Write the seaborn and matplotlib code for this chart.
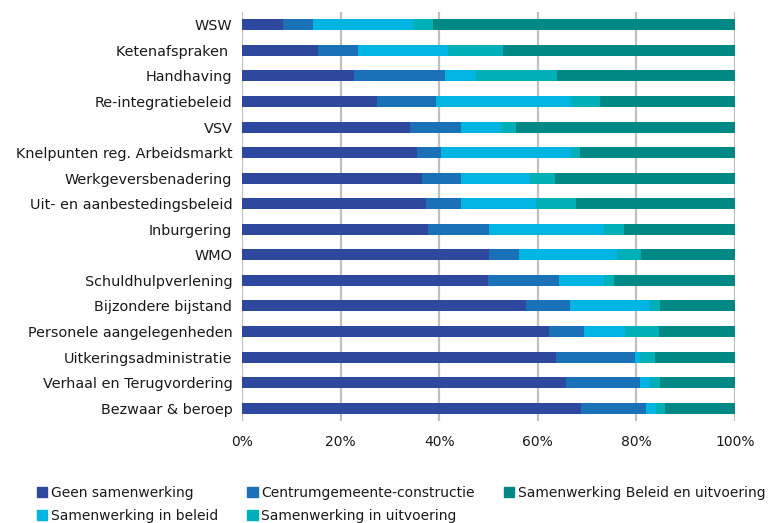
import numpy as np
import pandas as pd
import matplotlib
matplotlib.use("Agg")
import matplotlib.pyplot as plt
import matplotlib.patches as mpatches
import seaborn as sns

categories = ["WSW", "Ketenafspraken ", "Handhaving", "Re-integratiebeleid", "VSV",
              "Knelpunten reg. Arbeidsmarkt", "Werkgeversbenadering",
              "Uit- en aanbestedingsbeleid", "Inburgering", "WMO",
              "Schuldhulpverlening", "Bijzondere bijstand", "Personele aangelegenheden",
              "Uitkeringsadministratie", "Verhaal en Terugvordering", "Bezwaar & beroep"]

geen =        [8.3, 15.4, 22.7, 27.4, 34.1, 35.5, 36.5, 37.3, 37.7, 50.1, 49.9, 57.6, 62.3, 63.7, 65.7, 68.8]
centrum =     [6.1, 8.1, 18.5, 12.0, 10.3, 4.9, 7.9, 7.1, 12.4, 6.1, 14.4, 8.9, 7.1, 16.0, 15.0, 13.1]
in_beleid =   [20.3, 18.3, 6.3, 27.3, 8.1, 26.3, 14.0, 15.2, 23.3, 19.9, 9.1, 16.3, 8.3, 1.0, 2.1, 2.1]
in_uitv =     [4.0, 11.1, 16.4, 5.9, 3.1, 1.9, 5.1, 8.1, 4.1, 4.8, 2.1, 2.0, 6.9, 3.1, 2.0, 1.8]
beleid_uitv = [61.3, 47.1, 36.1, 27.4, 44.4, 31.4, 36.5, 32.3, 22.5, 19.1, 24.5, 15.2, 15.4, 16.2, 15.2, 14.2]

series_names = ["Geen samenwerking", "Centrumgemeente-constructie", "Samenwerking in beleid",
                "Samenwerking in uitvoering", "Samenwerking Beleid en uitvoering"]
colors = ["#2D489C", "#1A71B8", "#00B5E2", "#00AFB8", "#008884"]

df = pd.DataFrame({"cat": categories,
                   series_names[0]: geen, series_names[1]: centrum,
                   series_names[2]: in_beleid, series_names[3]: in_uitv,
                   series_names[4]: beleid_uitv})
vals = df[series_names].values
cum = np.cumsum(vals, axis=1)
tot = cum[:, -1:]
cum = cum / tot * 100

sns.set_style("white")
plt.rcParams['font.family'] = ['DejaVu Sans']

fig = plt.figure(figsize=(7.71, 5.23), dpi=100)
ax = fig.add_axes([242/771, 1 - 421/523, 493/771, 409/523])

for i in range(len(series_names) - 1, -1, -1):
    d = pd.DataFrame({"cat": categories, "v": cum[:, i]})
    sns.barplot(data=d, x="v", y="cat", orient="h", color=colors[i], width=0.43,
                ax=ax, saturation=1, zorder=2, linewidth=0)

ax.set_xlim(0, 100)
ax.set_xticks([0, 20, 40, 60, 80, 100])
ax.set_xticklabels(["0%", "20%", "40%", "60%", "80%", "100%"])
ax.xaxis.grid(True, color="#C0C0C0", linewidth=1.6, zorder=0)
ax.set_axisbelow(True)
ax.set_xlabel("")
ax.set_ylabel("")
for s in ax.spines.values():
    s.set_visible(False)
ax.tick_params(axis="both", length=0, colors="#1a1a1a")
ax.tick_params(axis="x", pad=10, labelsize=10)
ax.tick_params(axis="y", pad=7, labelsize=10.4)

handles = [mpatches.Patch(color=c, label=n) for c, n in zip(colors, series_names)]
order = [0, 2, 1, 3, 4]
fig.legend([handles[k] for k in order], [series_names[k] for k in order],
           loc="upper left", bbox_to_anchor=(37/771, 1 - 486/523), ncol=3, frameon=False,
           fontsize=10, handlelength=0.75, handleheight=0.75, handletextpad=0.25,
           columnspacing=2.1, labelspacing=0.62, borderaxespad=0, borderpad=0,
           labelcolor="#1a1a1a")

fig.savefig("out.png", dpi=100)
